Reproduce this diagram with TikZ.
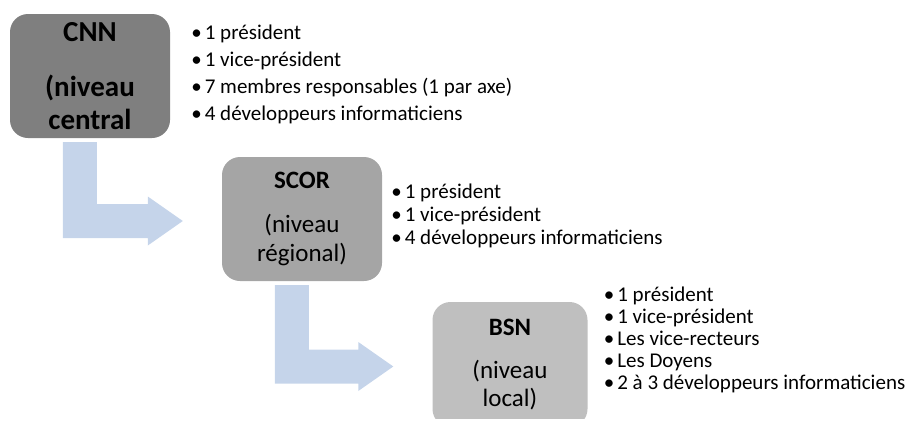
\documentclass[tikz,border=0pt]{standalone}
\usepackage{fontspec}
\setmainfont{Carlito}
\usetikzlibrary{calc,positioning}
\definecolor{arrowblue}{RGB}{197,212,234}
\definecolor{cnngray}{RGB}{127,127,127}
\definecolor{scorgray}{RGB}{165,165,165}
\definecolor{bsngray}{RGB}{191,191,191}
\tikzset{
	levelbox/.style={rounded corners=18pt, inner sep=0pt, align=center, text=black},
	levellist/.style={inner sep=0pt, anchor=west, align=left, text=black},
}
\def\levelarrow(#1)(#2){%
	\coordinate (top) at ($(#1.south west)+(53,4)$);
	\coordinate (tip) at ($(#2.west)+(-39,2)$);
	\fill[arrowblue] (top) -- ++(34,0) -- ($(top |- tip)+(34,-17)$) -- ($(tip)+(-35,-17)$) -- ($(tip)+(-35,-24.5)$) -- (tip) -- ($(tip)+(-35,24.5)$) -- ($(tip)+(-35,17)$) -- ($(top |- tip)+(0,17)$) -- cycle;}

\begin{document}
\begin{tikzpicture}[x=1pt, y=-1pt]
			%%%%% START %%%%%
			
			\useasboundingbox (0, 0) rectangle (918, 421);
			\clip (0, 0) rectangle (918, 418);
			
			\node[levelbox, fill=cnngray, minimum width=160pt, minimum height=124pt, font=\bfseries\fontsize{29}{33}\selectfont] (cnn) at (90, 76) {CNN\\[22pt](niveau\\central};
			\node[levelbox, fill=scorgray, minimum width=160pt, minimum height=124pt, font=\fontsize{25}{29}\selectfont] (scor) at (302, 219) {\textbf{SCOR}\\[15pt](niveau\\régional)};
			\node[levelbox, fill=bsngray, minimum width=155pt, minimum height=125pt, font=\fontsize{25}{28}\selectfont] (bsn) at (510, 364.5) {\textbf{BSN}\\[15pt](niveau\\local)};
			
			\levelarrow(cnn)(scor)
			\levelarrow(scor)(bsn)
			
			\node[levellist, font=\fontsize{21}{27}\selectfont] (cnnlist) at ($(cnn.east)+(21,-2)$) {\textbullet\hspace{3pt}1 président\\\textbullet\hspace{3pt}1 vice-président\\\textbullet\hspace{3pt}7 membres responsables (1 par axe)\\\textbullet\hspace{3pt}4 développeurs informaticiens};
			\node[levellist, font=\fontsize{21}{23}\selectfont] (scorlist) at ($(scor.east)+(9,-3)$) {\textbullet\hspace{3pt}1 président\\\textbullet\hspace{3pt}1 vice-président\\\textbullet\hspace{3pt}4 développeurs informaticiens};
			\node[levellist, font=\fontsize{21}{22}\selectfont] (bsnlist) at ($(bsn.east)+(16,-25)$) {\textbullet\hspace{3pt}1 président\\\textbullet\hspace{3pt}1 vice-président\\\textbullet\hspace{3pt}Les vice-recteurs\\\textbullet\hspace{3pt}Les Doyens\\\textbullet\hspace{3pt}2 à 3 développeurs informaticiens};
			
			%%%%% END %%%%%
\end{tikzpicture}
\end{document}
